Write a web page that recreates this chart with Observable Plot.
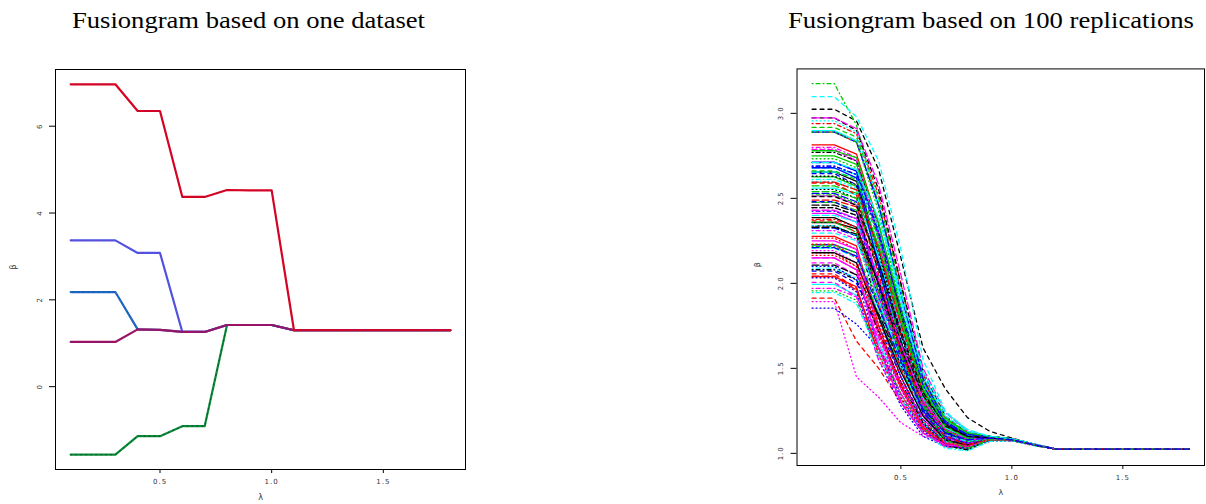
<!DOCTYPE html>
<html><head><meta charset="utf-8">
<script src="https://cdn.jsdelivr.net/npm/d3@7"></script>
<script src="https://cdn.jsdelivr.net/npm/@observablehq/plot@0.6"></script>
<style>
html,body{margin:0;padding:0;background:#fff;}
#wrap{position:relative;width:1206px;height:504px;overflow:hidden;background:#fff;}
.title{position:absolute;top:9px;font-family:"Liberation Serif","Times New Roman",serif;font-size:23px;line-height:23px;white-space:nowrap;transform-origin:0 0;color:#000;}
.panel{position:absolute;top:0;}
.panel svg{overflow:hidden;}
.panel g[aria-label$="tick label"] text{letter-spacing:1px;}
</style></head><body>
<div id="wrap">
  <div class="title" id="t1" style="left:72px">Fusiongram based on one dataset</div>
  <div class="title" id="t2" style="left:788px">Fusiongram based on 100 replications</div>
  <div class="panel" id="p1" style="left:0px"></div>
  <div class="panel" id="p2" style="left:740px"></div>
</div>
<script>
// ---------- shared lambda grid ----------
const lambdaGrid = [0.1,0.2,0.3,0.4,0.5,0.6,0.7,0.8,0.9,1.0,1.1,1.2,1.3,1.4,1.5,1.6,1.7,1.8];
const xTicks = [0.5,1.0,1.5];

// ---------- left panel: one dataset ----------
const leftRed    = [6.965,6.965,6.965,6.35,6.35,4.37,4.37,4.53,4.52,4.52,1.30,1.30,1.30,1.30,1.30,1.30,1.30,1.30];
const leftViolet = [3.37,3.37,3.37,3.08,3.08,1.26,1.26,1.42,1.42,1.42,1.30,1.30,1.30,1.30,1.30,1.30,1.30,1.30];
const leftBlue   = [2.18,2.18,2.18,1.32,1.31,1.26,1.26,1.42,1.42,1.42,1.30,1.30,1.30,1.30,1.30,1.30,1.30,1.30];
const leftPurple = [1.03,1.03,1.03,1.32,1.31,1.26,1.26,1.42,1.42,1.42,1.30,1.30,1.30,1.30,1.30,1.30,1.30,1.30];
const leftGreen  = [-1.567,-1.567,-1.567,-1.14,-1.14,-0.91,-0.91,1.42,1.42,1.42,1.30,1.30,1.30,1.30,1.30,1.30,1.30,1.30];
const leftYTicks = [0,2,4,6];

// ---------- right panel: 100 replications ----------
// value at lambda 0.1 and 0.2 (flat start)
const beta_0_2 = [2.655,1.913,2.593,2.425,2.678,2.412,3.024,2.179,3.175,2.529,
2.898,2.787,2.553,2.940,2.476,2.227,3.098,1.893,2.338,2.043,
2.750,2.072,2.600,2.800,2.460,2.814,2.917,1.854,2.090,2.150,
2.358,2.056,2.733,2.690,2.400,2.515,2.973,2.266,2.218,2.325,
1.994,2.120,2.445,2.890,2.573,2.713,2.208,2.192,2.770,2.490,
2.626,2.645,2.956,2.310,2.107,2.276,2.227,2.033,2.612,2.973,
2.387,2.367,1.956,2.690,2.655,2.250,2.445,2.165,2.520,2.890,
2.560,2.006,2.630,2.376,2.540,2.680,2.295,2.790,2.080,2.596,
2.780,2.480,2.340,1.971,2.330,2.040,2.662,2.100,1.946,2.430,
2.180,2.590,2.890,2.710,2.710,2.150,2.510,2.230,2.360,2.210];
const beta_0_3 = [2.60,1.66,2.55,2.38,2.64,2.36,2.955,2.10,2.93,2.48,
2.84,2.72,2.50,2.88,2.43,2.18,2.98,1.45,2.28,1.96,
2.70,2.00,2.55,2.74,2.42,2.76,2.86,1.76,2.03,2.08,
2.32,1.97,2.68,2.64,2.36,2.46,2.90,2.20,2.16,2.28,
1.93,2.05,2.40,2.83,2.53,2.66,2.15,2.12,2.72,2.45,
2.57,2.58,2.89,2.26,2.05,2.22,2.18,1.95,2.56,2.91,
2.33,2.30,1.90,2.64,2.62,2.20,2.40,2.10,2.47,2.83,
2.52,1.92,2.58,2.33,2.50,2.62,2.25,2.72,2.02,2.55,
2.74,2.42,2.28,1.92,2.29,1.98,2.61,2.02,1.88,2.38,
2.12,2.52,2.83,2.66,2.67,2.08,2.46,2.15,2.30,2.16];
const beta_0_4 = [2.20,1.50,2.05,1.98,2.30,1.90,2.67,1.72,2.45,2.12,
2.45,2.30,2.08,2.52,2.15,1.80,2.72,1.33,1.85,1.62,
2.28,1.75,2.25,2.30,2.02,2.35,2.50,1.62,1.80,1.65,
1.95,1.58,2.26,2.28,2.05,2.00,2.55,1.78,1.82,1.92,
1.65,1.70,2.00,2.47,2.22,2.15,1.85,1.68,2.34,2.10,
2.22,2.12,2.48,1.92,1.82,1.75,1.88,1.55,2.18,2.58,
2.00,1.88,1.60,2.32,2.32,1.72,2.08,1.70,2.10,2.46,
2.15,1.55,2.18,1.95,2.20,2.10,1.90,2.25,1.72,2.20,
2.35,1.98,1.90,1.68,2.00,1.58,2.26,1.62,1.58,2.02,
1.80,2.05,2.42,2.30,2.38,1.62,2.12,1.72,1.95,1.86];
const beta_0_5 = [1.72,1.30,1.60,1.62,1.85,1.50,2.15,1.42,1.95,1.70,
1.90,1.78,1.62,2.00,1.78,1.45,2.20,1.18,1.52,1.35,
1.75,1.45,1.82,1.75,1.60,1.82,1.98,1.40,1.50,1.35,
1.58,1.30,1.76,1.80,1.68,1.55,2.00,1.45,1.50,1.56,
1.40,1.40,1.60,1.95,1.82,1.65,1.52,1.38,1.82,1.70,
1.78,1.66,1.92,1.58,1.52,1.40,1.55,1.28,1.72,2.05,
1.62,1.50,1.35,1.86,1.90,1.38,1.70,1.38,1.66,1.94,
1.74,1.30,1.70,1.60,1.80,1.60,1.55,1.72,1.42,1.76,
1.85,1.56,1.52,1.42,1.66,1.32,1.80,1.33,1.32,1.64,
1.48,1.60,1.86,1.84,1.95,1.30,1.72,1.40,1.58,1.54];
const beta_0_6 = [1.32,1.12,1.25,1.30,1.40,1.22,1.62,1.17,1.45,1.33,
1.42,1.35,1.28,1.46,1.38,1.18,1.55,1.10,1.24,1.14,
1.33,1.20,1.40,1.30,1.28,1.36,1.44,1.17,1.24,1.14,
1.26,1.12,1.34,1.37,1.34,1.23,1.48,1.19,1.22,1.27,
1.18,1.16,1.26,1.43,1.42,1.28,1.25,1.15,1.36,1.34,
1.36,1.28,1.40,1.28,1.26,1.15,1.28,1.10,1.32,1.50,
1.30,1.22,1.15,1.40,1.45,1.16,1.35,1.14,1.30,1.44,
1.35,1.12,1.30,1.30,1.40,1.25,1.26,1.30,1.18,1.36,
1.38,1.24,1.22,1.20,1.34,1.12,1.37,1.13,1.12,1.31,
1.22,1.26,1.38,1.40,1.48,1.12,1.36,1.16,1.27,1.26];
const beta_0_7 = [1.16,1.05,1.10,1.14,1.20,1.09,1.38,1.06,1.20,1.15,
1.18,1.15,1.12,1.21,1.18,1.07,1.25,1.08,1.10,1.05,
1.12,1.08,1.19,1.13,1.12,1.16,1.19,1.06,1.11,1.05,
1.11,1.04,1.15,1.17,1.16,1.09,1.22,1.07,1.06,1.12,
1.05,1.06,1.08,1.18,1.21,1.12,1.11,1.05,1.13,1.15,
1.16,1.10,1.16,1.13,1.13,1.06,1.13,1.04,1.10,1.24,
1.14,1.08,1.04,1.18,1.22,1.06,1.16,1.05,1.11,1.19,
1.15,1.04,1.11,1.14,1.20,1.10,1.11,1.11,1.05,1.16,
1.16,1.09,1.07,1.08,1.17,1.05,1.16,1.05,1.03,1.14,
1.08,1.10,1.14,1.18,1.24,1.05,1.16,1.06,1.08,1.12];
const beta_0_8 = [1.10,1.04,1.07,1.09,1.12,1.06,1.21,1.04,1.12,1.10,
1.11,1.09,1.08,1.12,1.11,1.05,1.13,1.07,1.06,1.03,
1.05,1.05,1.11,1.08,1.08,1.10,1.11,1.04,1.07,1.04,
1.07,1.03,1.09,1.10,1.10,1.06,1.12,1.04,1.025,1.08,
1.03,1.04,1.03,1.10,1.12,1.07,1.07,1.03,1.05,1.09,
1.09,1.06,1.09,1.08,1.08,1.05,1.08,1.03,1.04,1.13,
1.09,1.04,1.02,1.11,1.13,1.04,1.10,1.03,1.05,1.11,
1.09,1.03,1.05,1.08,1.12,1.06,1.07,1.06,1.02,1.10,
1.09,1.05,1.03,1.05,1.10,1.04,1.09,1.03,1.015,1.08,
1.05,1.05,1.07,1.10,1.14,1.04,1.10,1.04,1.03,1.08];
const beta_0_9 = [1.09,1.08,1.09,1.09,1.10,1.08,1.13,1.08,1.10,1.09,
1.10,1.09,1.09,1.10,1.10,1.08,1.10,1.08,1.08,1.08,
1.08,1.08,1.10,1.09,1.09,1.09,1.10,1.08,1.09,1.08,
1.09,1.08,1.09,1.09,1.09,1.08,1.10,1.08,1.08,1.09,
1.08,1.08,1.08,1.10,1.10,1.08,1.09,1.08,1.08,1.09,
1.09,1.08,1.09,1.09,1.09,1.08,1.09,1.07,1.08,1.10,
1.09,1.08,1.08,1.10,1.10,1.08,1.09,1.08,1.08,1.10,
1.09,1.08,1.08,1.09,1.10,1.08,1.09,1.08,1.08,1.09,
1.09,1.08,1.08,1.08,1.09,1.08,1.09,1.08,1.07,1.09,
1.08,1.08,1.08,1.09,1.10,1.08,1.09,1.08,1.08,1.09];
const beta_1_0 = [1.08,1.075,1.08,1.08,1.085,1.08,1.09,1.08,1.085,1.08,
1.085,1.08,1.08,1.085,1.08,1.08,1.085,1.075,1.08,1.075,
1.08,1.08,1.085,1.08,1.08,1.08,1.085,1.075,1.08,1.08,
1.08,1.075,1.08,1.08,1.08,1.08,1.085,1.08,1.08,1.08,
1.08,1.08,1.08,1.085,1.085,1.08,1.08,1.08,1.08,1.08,
1.08,1.08,1.08,1.08,1.08,1.08,1.08,1.075,1.08,1.085,
1.08,1.08,1.075,1.085,1.085,1.08,1.08,1.08,1.08,1.085,
1.08,1.075,1.08,1.08,1.085,1.08,1.08,1.08,1.075,1.08,
1.08,1.08,1.08,1.08,1.08,1.08,1.08,1.08,1.075,1.08,
1.08,1.08,1.08,1.08,1.085,1.08,1.08,1.08,1.08,1.08];
const beta_1_1 = [1.05,1.05,1.05,1.05,1.05,1.05,1.055,1.05,1.05,1.05,
1.05,1.05,1.05,1.05,1.05,1.05,1.055,1.045,1.05,1.05,
1.05,1.05,1.05,1.05,1.05,1.05,1.05,1.05,1.05,1.05,
1.05,1.05,1.05,1.05,1.05,1.05,1.055,1.05,1.05,1.05,
1.05,1.05,1.05,1.05,1.05,1.05,1.05,1.05,1.05,1.05,
1.05,1.05,1.05,1.05,1.05,1.05,1.05,1.05,1.05,1.055,
1.05,1.05,1.045,1.05,1.055,1.05,1.05,1.05,1.05,1.05,
1.05,1.05,1.05,1.05,1.05,1.05,1.05,1.05,1.05,1.05,
1.05,1.05,1.05,1.05,1.05,1.05,1.05,1.05,1.045,1.05,
1.05,1.05,1.05,1.05,1.055,1.05,1.05,1.05,1.05,1.05];
// all replications meet at the same value for lambda 1.2 .. 1.8
const convergedBeta = 1.025;
const rightYTicks = [1.0,1.5,2.0,2.5,3.0];

// ---------- styles (R matplot defaults) ----------
const rColors = ["#000000","#FF0000","#00CD00","#0000FF","#00FFFF","#FF00FF"];
const rDashes = [null,"4,4","1,3","1,3,4,3","7,3"];
const tickFont = {fontSize: 7, fontFamily: "DejaVu Sans, sans-serif", fill: "#333"};
function rDomain(vals){ const lo = d3.min(vals), hi = d3.max(vals), p = (hi-lo)*0.04; return [lo-p, hi+p]; }

// ---------- left panel ----------
const leftSeries = [
  {values: leftGreen,  base: "#0b8a3a", over: "#00250e"},
  {values: leftBlue,   base: "#1b5fc2", over: "#10a6a6"},
  {values: leftViolet, base: "#4b57e8", over: "#b0208a"},
  {values: leftPurple, base: "#a3105c", over: "#3434c4"},
  {values: leftRed,    base: "#e0001b", over: "#5b2a86"}
];
const leftAll = leftSeries.flatMap(s => s.values);
const leftMarks = [];
for (const s of leftSeries) {
  const rows = lambdaGrid.map((l,j) => ({lambda: l, beta: s.values[j]}));
  leftMarks.push(Plot.line(rows, {x: "lambda", y: "beta", stroke: s.base, strokeWidth: 2.2}));
  leftMarks.push(Plot.line(rows, {x: "lambda", y: "beta", stroke: s.over, strokeWidth: 1, strokeDasharray: "1,4", strokeOpacity: 0.55}));
}
const left = Plot.plot({
  width: 480, height: 504,
  marginLeft: 55, marginRight: 15, marginTop: 69, marginBottom: 35,
  x: {domain: rDomain(lambdaGrid)},
  y: {domain: rDomain(leftAll)},
  marks: [
    ...leftMarks,
    Plot.frame({stroke: "#000", strokeWidth: 1}),
    Plot.axisX({ticks: xTicks, tickFormat: d3.format(".1f"), tickSize: 4, tickPadding: 6, label: null, ...tickFont}),
    Plot.axisY({ticks: leftYTicks, tickFormat: d => String(d), tickSize: 6, tickPadding: 8, tickRotate: -90, label: null, ...tickFont}),
    Plot.text(["λ"], {text: d => d, frameAnchor: "bottom", dy: 30, fontSize: 8, fontFamily: "DejaVu Sans, sans-serif", fill: "#333"}),
    Plot.text(["β"], {text: d => d, frameAnchor: "left", dx: -42, rotate: -90, fontSize: 8, fontFamily: "DejaVu Sans, sans-serif", fill: "#333"})
  ]
});
document.getElementById("p1").appendChild(left);

// ---------- right panel ----------
const stepCols = [beta_0_2, beta_0_2, beta_0_3, beta_0_4, beta_0_5, beta_0_6, beta_0_7, beta_0_8, beta_0_9, beta_1_0, beta_1_1];
const rightMarks = [];
const rightAll = [];
for (let i = 0; i < beta_0_2.length; i++) {
  const rows = lambdaGrid.map((l,j) => ({lambda: l, beta: j < stepCols.length ? stepCols[j][i] : convergedBeta}));
  rows.forEach(r => rightAll.push(r.beta));
  const opts = {x: "lambda", y: "beta", stroke: rColors[i % 6], strokeWidth: 1.3};
  if (rDashes[i % 5]) opts.strokeDasharray = rDashes[i % 5];
  rightMarks.push(Plot.line(rows, opts));
}
const right = Plot.plot({
  width: 470, height: 504,
  marginLeft: 57, marginRight: 2, marginTop: 69, marginBottom: 35,
  x: {domain: rDomain(lambdaGrid)},
  y: {domain: rDomain(rightAll)},
  marks: [
    ...rightMarks,
    Plot.frame({stroke: "#000", strokeWidth: 1}),
    Plot.axisX({ticks: xTicks, tickFormat: d3.format(".1f"), tickSize: 4, tickPadding: 6, label: null, ...tickFont}),
    Plot.axisY({ticks: rightYTicks, tickFormat: d3.format(".1f"), tickSize: 6, tickPadding: 8, tickRotate: -90, label: null, ...tickFont}),
    Plot.text(["λ"], {text: d => d, frameAnchor: "bottom", dy: 30, fontSize: 8, fontFamily: "DejaVu Sans, sans-serif", fill: "#333"}),
    Plot.text(["β"], {text: d => d, frameAnchor: "left", dx: -40, rotate: -90, fontSize: 8, fontFamily: "DejaVu Sans, sans-serif", fill: "#333"})
  ]
});
document.getElementById("p2").appendChild(right);

// ---------- titles (stretched like the reference) ----------
function fitTitle(id, target){ const el = document.getElementById(id); const w = el.getBoundingClientRect().width; el.style.transform = `scaleX(${target / w})`; }
fitTitle("t1", 353);
fitTitle("t2", 406);
</script>
</body></html>
